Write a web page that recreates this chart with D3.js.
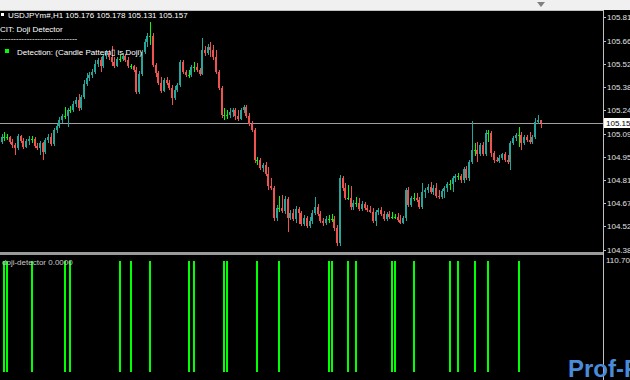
<!DOCTYPE html>
<html>
<head>
<meta charset="utf-8">
<script src="https://cdn.jsdelivr.net/npm/d3@7"></script>
<style>
body { margin: 0; background: #fff; }
svg { display: block; }
text { font-family: "Liberation Sans", Arial, sans-serif; font-size: 8px; }
</style>
</head>
<body>
<svg id="chart" width="630" height="380"></svg>
<script>
// USDJPYm# H1 bars, oldest first
const opens = [
  105.042,105.073,105.073,105.073,105.042,105.024,105.005,105.079,105.048,105.012,
  105.048,105.061,105.061,105.018,105.005,105.036,104.981,105.055,105.073,105.030,
  105.116,105.140,105.177,105.202,105.202,105.239,105.239,105.275,105.300,105.251,
  105.319,105.399,105.435,105.454,105.472,105.521,105.546,105.509,105.570,105.589,
  105.564,105.534,105.509,105.552,105.552,105.570,105.546,105.509,105.509,105.484,
  105.349,105.460,105.595,105.656,105.693,105.693,105.515,105.466,105.405,105.356,
  105.423,105.405,105.374,105.313,105.362,105.392,105.534,105.472,105.454,105.454,
  105.503,105.503,105.484,105.460,105.607,105.589,105.626,105.607,105.564,105.472,
  105.374,105.208,105.208,105.208,105.226,105.239,105.202,105.183,105.239,105.257,
  105.202,105.153,105.116,104.932,104.932,104.883,104.901,104.846,104.772,104.760,
  104.577,104.638,104.638,104.620,104.692,104.577,104.607,104.570,104.632,104.607,
  104.540,104.577,104.527,104.558,104.607,104.644,104.601,104.558,104.546,104.570,
  104.570,104.570,104.515,104.423,104.821,104.760,104.699,104.699,104.644,104.669,
  104.669,104.632,104.662,104.638,104.626,104.613,104.558,104.613,104.626,104.601,
  104.570,104.601,104.583,104.583,104.583,104.564,104.546,104.577,104.748,104.656,
  104.699,104.699,104.687,104.644,104.735,104.748,104.766,104.735,104.760,104.711,
  104.705,104.742,104.760,104.785,104.785,104.821,104.834,104.834,104.809,104.877,
  104.821,104.920,104.993,104.993,104.969,105.024,104.969,105.098,105.098,104.975,
  104.932,104.926,104.944,104.969,104.932,104.920,105.036,105.067,105.085,105.085,
  105.036,105.073,105.055,105.042,105.073,105.165,105.176
];
const highs = [
  105.091,105.104,105.091,105.079,105.061,105.036,105.091,105.085,105.067,105.061,
  105.079,105.079,105.073,105.036,105.048,105.042,105.067,105.091,105.098,105.128,
  105.153,105.196,105.214,105.257,105.251,105.263,105.294,105.319,105.337,105.331,
  105.423,105.466,105.472,105.491,105.546,105.558,105.564,105.583,105.607,105.607,
  105.632,105.564,105.564,105.577,105.589,105.583,105.564,105.521,105.515,105.503,
  105.478,105.607,105.675,105.712,105.779,105.712,105.527,105.478,105.442,105.435,
  105.442,105.423,105.392,105.386,105.405,105.546,105.546,105.484,105.484,105.515,
  105.534,105.527,105.497,105.681,105.632,105.644,105.656,105.638,105.607,105.484,
  105.386,105.251,105.239,105.251,105.251,105.251,105.239,105.251,105.269,105.269,
  105.220,105.171,105.128,104.950,104.944,104.913,104.920,104.889,104.821,104.772,
  104.656,104.711,104.717,104.711,104.705,104.626,104.632,104.650,104.644,104.620,
  104.595,104.589,104.583,104.626,104.705,104.662,104.620,104.577,104.589,104.595,
  104.601,104.589,104.534,104.840,104.834,104.791,104.778,104.772,104.687,104.705,
  104.699,104.681,104.675,104.656,104.650,104.638,104.626,104.638,104.644,104.620,
  104.613,104.620,104.613,104.601,104.607,104.595,104.589,104.760,104.766,104.711,
  104.729,104.729,104.705,104.791,104.760,104.785,104.797,104.778,104.791,104.748,
  104.754,104.772,104.797,104.809,104.834,104.846,104.852,104.846,104.889,104.895,
  104.932,105.171,105.036,105.042,105.036,105.042,105.116,105.116,105.110,104.987,
  104.950,104.963,104.975,104.981,104.963,105.048,105.079,105.098,105.134,105.104,
  105.085,105.085,105.104,105.085,105.190,105.208,105.178
];
const lows = [
  105.030,105.048,105.055,105.030,105.005,104.963,104.993,105.036,104.999,105.005,
  105.024,105.036,105.005,104.993,104.963,104.932,104.969,105.036,105.018,105.018,
  105.098,105.128,105.159,105.183,105.134,105.220,105.226,105.257,105.233,105.239,
  105.306,105.386,105.417,105.435,105.460,105.503,105.472,105.497,105.552,105.546,
  105.509,105.497,105.503,105.534,105.540,105.534,105.497,105.491,105.472,105.337,
  105.337,105.448,105.583,105.626,105.638,105.503,105.442,105.392,105.343,105.349,
  105.392,105.362,105.269,105.300,105.349,105.380,105.460,105.442,105.435,105.442,
  105.472,105.472,105.448,105.454,105.570,105.577,105.564,105.546,105.460,105.362,
  105.190,105.177,105.183,105.190,105.196,105.177,105.171,105.177,105.220,105.190,
  105.140,105.104,104.913,104.901,104.870,104.858,104.834,104.748,104.748,104.558,
  104.558,104.613,104.607,104.601,104.491,104.564,104.558,104.546,104.540,104.527,
  104.527,104.515,104.515,104.540,104.595,104.589,104.546,104.527,104.534,104.546,
  104.552,104.497,104.405,104.405,104.742,104.687,104.687,104.626,104.626,104.644,
  104.620,104.620,104.626,104.613,104.607,104.546,104.527,104.595,104.589,104.558,
  104.558,104.570,104.570,104.570,104.552,104.540,104.540,104.558,104.644,104.644,
  104.681,104.675,104.632,104.632,104.699,104.729,104.723,104.717,104.699,104.692,
  104.692,104.699,104.735,104.748,104.735,104.797,104.809,104.791,104.791,104.809,
  104.803,104.907,104.956,104.920,104.956,104.956,104.956,105.042,104.950,104.913,
  104.920,104.913,104.932,104.920,104.907,104.870,105.024,105.048,105.012,104.993,
  105.024,105.042,105.030,105.030,105.061,105.153,105.131
];
const closes = [
  105.073,105.073,105.073,105.042,105.024,105.005,105.079,105.048,105.012,105.048,
  105.061,105.061,105.018,105.005,105.036,104.981,105.055,105.073,105.030,105.116,
  105.140,105.177,105.202,105.202,105.239,105.239,105.275,105.300,105.251,105.319,
  105.399,105.435,105.454,105.472,105.521,105.546,105.509,105.570,105.589,105.564,
  105.534,105.509,105.552,105.552,105.570,105.546,105.509,105.509,105.484,105.349,
  105.460,105.595,105.656,105.693,105.693,105.515,105.466,105.405,105.356,105.423,
  105.405,105.374,105.313,105.362,105.392,105.534,105.472,105.454,105.454,105.503,
  105.503,105.484,105.460,105.607,105.589,105.626,105.607,105.564,105.472,105.374,
  105.208,105.208,105.208,105.226,105.239,105.202,105.183,105.239,105.257,105.202,
  105.153,105.116,104.932,104.932,104.883,104.901,104.846,104.772,104.760,104.577,
  104.638,104.638,104.620,104.692,104.577,104.607,104.570,104.632,104.607,104.540,
  104.577,104.527,104.558,104.607,104.644,104.601,104.558,104.546,104.570,104.570,
  104.570,104.515,104.423,104.821,104.760,104.699,104.699,104.644,104.669,104.669,
  104.632,104.662,104.638,104.626,104.613,104.558,104.613,104.626,104.601,104.570,
  104.601,104.583,104.583,104.583,104.564,104.546,104.577,104.748,104.656,104.699,
  104.699,104.687,104.644,104.735,104.748,104.766,104.735,104.760,104.711,104.705,
  104.742,104.760,104.785,104.785,104.821,104.834,104.834,104.809,104.877,104.821,
  104.920,104.993,104.993,104.969,105.024,104.969,105.098,105.098,104.975,104.932,
  104.926,104.944,104.969,104.932,104.920,105.036,105.067,105.085,105.085,105.036,
  105.073,105.055,105.042,105.073,105.165,105.177,105.157
];
// bars flagged by the doji-detector window
const dojiBars = [1,2,11,23,25,43,47,54,68,70,81,82,93,101,119,120,126,129,142,143,150,163,166,172,177,188];
const priceTicks = ['105.810','105.665','105.520','105.380','105.240','105.095','104.950','104.810','104.670','104.529','104.380'];
const lastPrice = 105.157;
const header = 'USDJPYm#,H1  105.176 105.178 105.131 105.157';

const svg = d3.select('#chart');
const width = +svg.attr('width');
const height = +svg.attr('height');
const plotRight = 603;
const mainTop = 10, mainBottom = 253;
const subTop = 261, subBottom = 372;

const bull = '#26a69a', bear = '#ef5350', doji = '#00ff00';

svg.append('rect').attr('width', width).attr('height', height).attr('fill', '#000');
svg.append('rect').attr('width', width).attr('height', mainTop).attr('fill', '#f0f0f0');
// chart shift marker
svg.append('path').attr('d', 'M537,2 L545,2 L541,7 Z').attr('fill', '#808080');

const x = d3.scaleLinear().domain([0, closes.length - 1]).range([1.5, 540.5]);
const y = d3.scaleLinear().domain([104.362, 105.853]).range([mainBottom, mainTop]);
const ySub = d3.scaleLinear().domain([0, 1]).range([subBottom, subTop]);

// frame
svg.append('line').attr('x1', 0).attr('x2', plotRight).attr('y1', mainTop + 0.5).attr('y2', mainTop + 0.5)
  .attr('stroke', '#c0c0c0');
svg.append('line').attr('x1', plotRight + 0.5).attr('x2', plotRight + 0.5).attr('y1', mainTop).attr('y2', height)
  .attr('stroke', '#c0c0c0');
svg.append('rect').attr('x', 0).attr('y', 252).attr('width', plotRight).attr('height', 3).attr('fill', '#9a9a9a');

// last price line
svg.append('line').attr('x1', 0).attr('x2', plotRight).attr('y1', Math.round(y(lastPrice)) + 0.5).attr('y2', Math.round(y(lastPrice)) + 0.5)
  .attr('stroke', '#a0a0a0');

// candles
const bars = closes.map((c, i) => ({ i, o: opens[i], h: highs[i], l: lows[i], c }));
const g = svg.append('g').attr('shape-rendering', 'crispEdges');
const colorOf = d => d.c > d.o ? bull : (d.c < d.o ? bear : doji);

g.selectAll('.wick').data(bars).enter().append('rect')
  .attr('x', d => Math.round(x(d.i)))
  .attr('y', d => Math.round(y(d.h)))
  .attr('width', 1)
  .attr('height', d => Math.max(1, Math.round(y(d.l)) - Math.round(y(d.h))))
  .attr('fill', colorOf);

g.selectAll('.body').data(bars).enter().append('rect')
  .attr('x', d => Math.round(x(d.i)) - 1)
  .attr('y', d => Math.round(y(Math.max(d.o, d.c))))
  .attr('width', 2)
  .attr('height', d => Math.max(1, Math.round(y(Math.min(d.o, d.c))) - Math.round(y(Math.max(d.o, d.c)))))
  .attr('fill', colorOf);

// price axis
const axis = svg.append('g');
priceTicks.forEach(t => {
  const ty = Math.round(y(+t));
  axis.append('line').attr('x1', plotRight).attr('x2', plotRight + 3).attr('y1', ty + 0.5).attr('y2', ty + 0.5).attr('stroke', '#c0c0c0');
  axis.append('text').attr('x', 607).attr('y', ty).attr('dy', '0.35em').attr('fill', '#e0e0e0').text(t);
});
const ly = Math.round(y(lastPrice));
axis.append('rect').attr('x', 604).attr('y', ly - 5).attr('width', 26).attr('height', 10).attr('fill', '#fff');
axis.append('text').attr('x', 606).attr('y', ly).attr('dy', '0.35em').attr('fill', '#000').text(lastPrice.toFixed(3));

// indicator window
svg.append('g').attr('shape-rendering', 'crispEdges')
  .selectAll('rect').data(dojiBars).enter().append('rect')
  .attr('x', d => Math.round(x(d)) - 1)
  .attr('y', ySub(1))
  .attr('width', 2)
  .attr('height', ySub(0) - ySub(1))
  .attr('fill', doji);
svg.append('text').attr('x', 2).attr('y', 262).attr('dy', '0.35em').attr('fill', '#c8c8c8').text('doji-detector 0.0000');
svg.append('text').attr('x', 606).attr('y', 260).attr('dy', '0.35em').attr('fill', '#e0e0e0').text('110.7050');

// header and comment block
svg.append('rect').attr('x', 1).attr('y', 13).attr('width', 3).attr('height', 3).attr('fill', '#fff');
svg.append('text').attr('x', 8).attr('y', 18).attr('fill', '#fff').text(header);
svg.append('text').attr('x', 0).attr('y', 32).attr('fill', '#fff').text('CIT: Doji Detector');
svg.append('text').attr('x', 0).attr('y', 41).attr('fill', '#fff').text('-----------------------------');
svg.append('rect').attr('x', 5).attr('y', 49).attr('width', 4).attr('height', 4).attr('fill', doji);
svg.append('text').attr('x', 17).attr('y', 55).attr('fill', '#fff').text('Detection: (Candle Pattern\u25AF is Doji)');

// watermark
svg.append('text').attr('x', 568).attr('y', 377).attr('fill', '#4a8ad8')
  .style('font-size', '24px').style('font-weight', 'bold').text('Prof-F');
</script>
</body>
</html>
